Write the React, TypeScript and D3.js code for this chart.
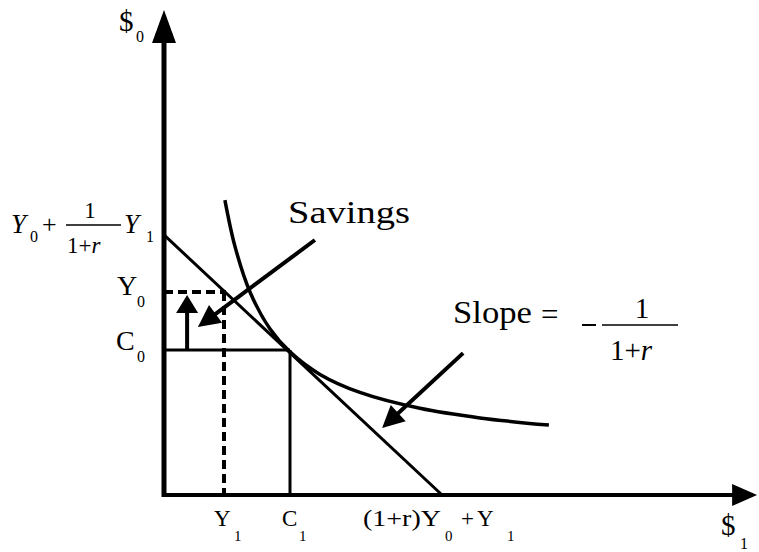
import React from "react";
import * as d3 from "d3";

// ---- data (units along $1 and $0 axes) ----
const endowment = { Y1: 2.0, Y0: 6.77 };
const consumption = { C1: 4.2, C0: 4.83 };
const budgetIntercepts = { y: 8.67, x: 9.27 };
const indiffX = [2.03, 2.37, 2.87, 3.53, 4.2, 5.2, 6.53, 8.53, 10.53, 12.83];
const indiffY = [9.83, 8.27, 6.76, 5.54, 4.77, 4.02, 3.42, 2.89, 2.57, 2.33];
const axisEnds = { x: 19.77, y: 16.17 };
const savingsUp = { x: 0.77, from: 4.83, to: 6.67 };
const savingsArrow = { x0: 5.03, y0: 8.5, x1: 1.13, y1: 5.6 };
const slopeArrow = { x0: 9.97, y0: 4.73, x1: 7.27, y1: 2.23 };

const W = 759;
const H = 552;
const x = d3.scaleLinear().domain([0, 20]).range([164, 764]);
const y = d3.scaleLinear().domain([0, 16.5]).range([495, 0]);

function head(x0: number, y0: number, x1: number, y1: number, len: number, wid: number) {
  const dx = x1 - x0, dy = y1 - y0;
  const L = Math.hypot(dx, dy);
  const ux = dx / L, uy = dy / L;
  const bx = x1 - ux * len, by = y1 - uy * len;
  const px = -uy * wid / 2, py = ux * wid / 2;
  return `${x1},${y1} ${bx + px},${by + py} ${bx - px},${by - py}`;
}

function Arrow({ x0, y0, x1, y1, len, wid, sw }: any) {
  const X0 = x(x0), Y0 = y(y0), X1 = x(x1), Y1 = y(y1);
  const L = Math.hypot(X1 - X0, Y1 - Y0);
  const ex = X1 - ((X1 - X0) / L) * (len - 2);
  const ey = Y1 - ((Y1 - Y0) / L) * (len - 2);
  return (
    <g>
      <line x1={X0} y1={Y0} x2={ex} y2={ey} stroke="#000" strokeWidth={sw} />
      <polygon points={head(X0, Y0, X1, Y1, len, wid)} fill="#000" />
    </g>
  );
}

export default function App() {
  const pts = indiffX.map((d, i) => [x(d), y(indiffY[i])] as [number, number]);
  const curve = d3.line().curve(d3.curveCatmullRom.alpha(0.5))(pts) || "";
  const serif = "'Liberation Serif', 'DejaVu Serif', serif";
  return (
    <svg width={W} height={H} style={{ position: "absolute", left: 0, top: 0, background: "#fff" }}>
      <rect width={W} height={H} fill="#fff" />
      {/* axes */}
      <line x1={x(0)} y1={y(0) + 2} x2={x(0)} y2={y(axisEnds.y) + 30} stroke="#000" strokeWidth={5} />
      <polygon points={head(x(0), y(0), x(0), y(axisEnds.y), 33, 24)} fill="#000" />
      <line x1={x(0) - 2} y1={y(0)} x2={x(axisEnds.x) - 22} y2={y(0)} stroke="#000" strokeWidth={4} />
      <polygon points={head(x(0), y(0), x(axisEnds.x), y(0), 25, 22)} fill="#000" />

      {/* budget line */}
      <line x1={x(0)} y1={y(budgetIntercepts.y)} x2={x(budgetIntercepts.x)} y2={y(0)} stroke="#000" strokeWidth={3} />
      {/* indifference curve */}
      <path d={curve} fill="none" stroke="#000" strokeWidth={3.5} />
      {/* consumption lines */}
      <line x1={x(0)} y1={y(consumption.C0)} x2={x(consumption.C1)} y2={y(consumption.C0)} stroke="#000" strokeWidth={3} />
      <line x1={x(consumption.C1)} y1={y(consumption.C0)} x2={x(consumption.C1)} y2={y(0)} stroke="#000" strokeWidth={3} />
      {/* endowment dashed */}
      <line x1={x(0)} y1={y(endowment.Y0)} x2={x(endowment.Y1) + 2} y2={y(endowment.Y0)} stroke="#000" strokeWidth={4} strokeDasharray="9 5" />
      <line x1={x(endowment.Y1)} y1={y(endowment.Y0)} x2={x(endowment.Y1)} y2={y(0)} stroke="#000" strokeWidth={4} strokeDasharray="9 5" />

      {/* arrows */}
      <Arrow x0={savingsUp.x} y0={savingsUp.from} x1={savingsUp.x} y1={savingsUp.to} len={18} wid={22} sw={4} />
      <Arrow {...savingsArrow} len={22} wid={22} sw={4} />
      <Arrow {...slopeArrow} len={22} wid={22} sw={4} />

      <g fontFamily={serif} fill="#000">
        {/* axis titles */}
        <text x={119} y={31} fontSize={29}>$</text>
        <text x={136} y={42} fontSize={16}>0</text>
        <text x={721} y={535} fontSize={29}>$</text>
        <text x={740} y={549} fontSize={16}>1</text>

        {/* left labels */}
        <text x={117} y={295} fontSize={28}>Y</text>
        <text x={137} y={307} fontSize={16}>0</text>
        <text x={116} y={350} fontSize={28}>C</text>
        <text x={137} y={362} fontSize={16}>0</text>

        {/* intercept label */}
        <text x={11} y={233} fontSize={27} fontStyle="italic">Y</text>
        <text x={30} y={242} fontSize={16}>0</text>
        <text x={42} y={233} fontSize={26}>+</text>
        <line x1={66} y1={225} x2={121} y2={225} stroke="#000" strokeWidth={1.5} />
        <text x={90} y={218} fontSize={23} textAnchor="middle">1</text>
        <text x={67} y={253} fontSize={23}>1+<tspan fontStyle="italic">r</tspan></text>
        <text x={124} y={233} fontSize={27} fontStyle="italic">Y</text>
        <text x={146} y={242} fontSize={16}>1</text>

        {/* bottom labels */}
        <text x={214} y={526} fontSize={23}>Y</text>
        <text x={234} y={541} fontSize={15}>1</text>
        <text x={282} y={526} fontSize={23}>C</text>
        <text x={299} y={541} fontSize={15}>1</text>
        <text x={363} y={526} fontSize={23} textLength={78} lengthAdjust="spacingAndGlyphs">(1+r)Y</text>
        <text x={445} y={541} fontSize={15}>0</text>
        <text x={461} y={526} fontSize={23}>+</text>
        <text x={477} y={526} fontSize={23}>Y</text>
        <text x={507} y={541} fontSize={15}>1</text>

        {/* annotations */}
        <text x={288} y={223} fontSize={31} textLength={122} lengthAdjust="spacingAndGlyphs">Savings</text>
        <text x={453} y={323} fontSize={31} textLength={79} lengthAdjust="spacingAndGlyphs">Slope</text>
        <text x={541} y={325} fontSize={31}>=</text>
        <line x1={582} y1={325} x2={596} y2={325} stroke="#000" strokeWidth={2} />
        <line x1={602} y1={325} x2={678} y2={325} stroke="#000" strokeWidth={1.5} />
        <text x={642} y={318} fontSize={29} textAnchor="middle">1</text>
        <text x={610} y={360} fontSize={29}>1+<tspan fontStyle="italic">r</tspan></text>
      </g>
    </svg>
  );
}
